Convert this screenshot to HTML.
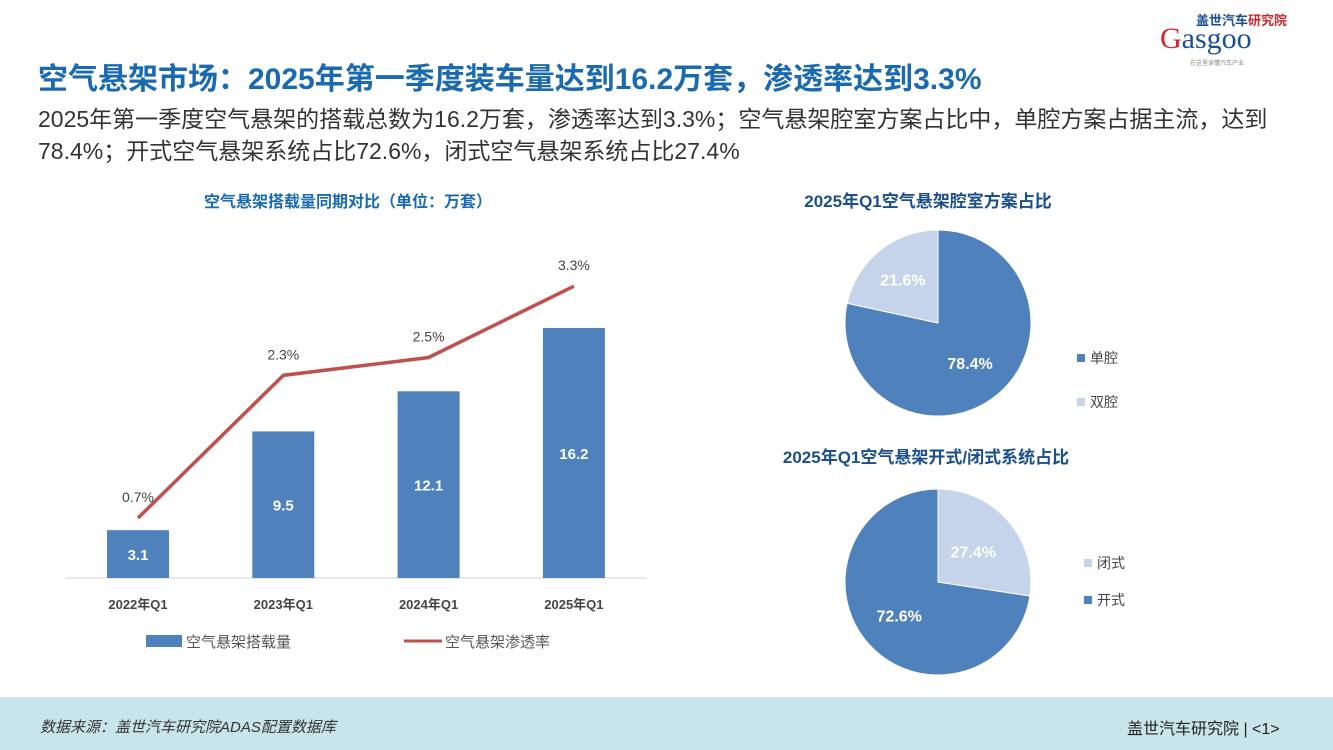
<!DOCTYPE html>
<html><head><meta charset="utf-8">
<style>
body{margin:0;width:1333px;height:750px;overflow:hidden;background:#fff;font-family:"Liberation Sans","Noto Sans CJK SC",sans-serif;position:relative}
.abs{position:absolute}
</style></head><body>
<div class="abs" style="left:38px;top:54px;font-size:30px;font-weight:bold;color:#1a6ab2;white-space:nowrap">空气悬架市场：2025年第一季度装车量达到16.2万套，渗透率达到3.3%</div>
<div class="abs" style="left:38px;top:103px;width:1262px;font-size:23px;line-height:32px;color:#333">2025年第一季度空气悬架的搭载总数为16.2万套，渗透率达到3.3%；空气悬架腔室方案占比中，单腔方案占据主流，达到78.4%；开式空气悬架系统占比72.6%，闭式空气悬架系统占比27.4%</div>
<div class="abs" style="left:1160px;top:10px;width:130px;height:55px">
 <div style="position:absolute;left:36px;top:0;font-size:13px;font-weight:bold;color:#1b4f93">盖世汽车<span style="color:#d0262e">研究院</span></div>
 <div style="position:absolute;left:0;top:12px;font-family:'Liberation Serif',serif;font-size:30px;color:#1b4f93"><span style="color:#d0262e">G</span>asgoo</div>
 <div style="position:absolute;left:30px;top:48px;font-size:6px;color:#888">在这里读懂汽车产业</div>
</div>

<svg class="abs" style="left:0;top:0" width="1333" height="700">
 <text x="348" y="207" text-anchor="middle" font-size="16" font-weight="bold" fill="#1a6ab2">空气悬架搭载量同期对比（单位：万套）</text>
 <line x1="66" y1="578" x2="646" y2="578" stroke="#d0d0d0"/>
 <g id="bars"></g>
 <g id="line"></g>
 <g id="xlabels"></g>
 <rect x="146" y="635" width="36" height="12" fill="#4f81bd"/>
 <text x="186" y="647" font-size="15" fill="#555">空气悬架搭载量</text>
 <line x1="404" y1="641" x2="442" y2="641" stroke="#c0504d" stroke-width="3"/>
 <text x="445" y="647" font-size="15" fill="#555">空气悬架渗透率</text>

 <text x="928" y="207" text-anchor="middle" font-size="17" font-weight="bold" fill="#1a4f8a">2025年Q1空气悬架腔室方案占比</text>
 <g id="pie1"></g>
 <rect x="1077" y="354" width="8" height="8" fill="#4f81bd"/>
 <text x="1090" y="363" font-size="14" fill="#444">单腔</text>
 <rect x="1077" y="398" width="8" height="8" fill="#c5d4ea"/>
 <text x="1090" y="407" font-size="14" fill="#444">双腔</text>

 <text x="926" y="463" text-anchor="middle" font-size="17" font-weight="bold" fill="#1a4f8a">2025年Q1空气悬架开式/闭式系统占比</text>
 <g id="pie2"></g>
 <rect x="1084" y="559" width="8" height="8" fill="#c5d4ea"/>
 <text x="1097" y="568" font-size="14" fill="#444">闭式</text>
 <rect x="1084" y="596" width="8" height="8" fill="#4f81bd"/>
 <text x="1097" y="605" font-size="14" fill="#444">开式</text>
</svg>

<div class="abs" style="left:0;top:697px;width:1333px;height:53px;background:#c9e5ec"></div>
<div class="abs" style="left:40px;top:716px;font-size:15px;font-style:italic;color:#333">数据来源：盖世汽车研究院ADAS配置数据库</div>
<div class="abs" style="left:1127px;top:715px;font-size:16px;color:#222">盖世汽车研究院 | &lt;1&gt;</div>

<script>
const categories=["2022年Q1","2023年Q1","2024年Q1","2025年Q1"];
const volumes=[3.1,9.5,12.1,16.2];
const rates=[0.7,2.3,2.5,3.3];
const pie1Labels=["单腔","双腔"];
const pie1Values=[78.4,21.6];
const pie2Labels=["开式","闭式"];
const pie2Values=[72.6,27.4];

const NS="http://www.w3.org/2000/svg";
function mk(t,a,p){const e=document.createElementNS(NS,t);for(const k in a)e.setAttribute(k,a[k]);p.appendChild(e);return e;}
const xPos=i=>138+i*145.3;
const yBar=v=>578-v*15.43;
const yRate=v=>580.5-v*89.2;
const gb=document.getElementById('bars'),gl=document.getElementById('line'),gx=document.getElementById('xlabels');
volumes.forEach((v,i)=>{
 const r=mk('rect',{x:xPos(i)-31,y:yBar(v),width:62,height:578-yBar(v),fill:'#4f81bd'},gb);
 
 
 const t=mk('text',{x:xPos(i),y:(yBar(v)+578)/2+6,'text-anchor':'middle','font-size':15,'font-weight':'bold',fill:'#fff'},gb);
 t.textContent=v.toFixed(1);
 
 
 const c=mk('text',{x:xPos(i),y:609,'text-anchor':'middle','font-size':13,'font-weight':'bold',fill:'#444'},gx);
 c.textContent=categories[i];
 
 
});
const pl=mk('polyline',{points:rates.map((v,i)=>xPos(i)+','+yRate(v)).join(' '),fill:'none',stroke:'#c0504d','stroke-width':3.5},gl);


rates.forEach((v,i)=>{
 const t=mk('text',{x:xPos(i),y:yRate(v)-16,'text-anchor':'middle','font-size':14,fill:'#444'},gl);
 t.textContent=v.toFixed(1)+'%';
 
 
});
function pie(id,cx,cy,r,vals,cols,dir,lab){
 const g=document.getElementById(id);
 const tot=vals.reduce((a,b)=>a+b,0);let a0=0;
 vals.forEach((v,i)=>{
  const a1=a0+v/tot*2*Math.PI*dir;
  const p=(a)=>[cx+r*Math.sin(a),cy-r*Math.cos(a)];
  const [x0,y0]=p(a0),[x1,y1]=p(a1);
  const large=v/tot>0.5?1:0;
  const path=mk('path',{d:`M${cx},${cy}L${x0},${y0}A${r},${r} 0 ${large} ${dir>0?1:0} ${x1},${y1}Z`,fill:cols[i],stroke:'#fff','stroke-width':1},g);
  
  
  const am=(a0+a1)/2,lr=r*lab[i];
  const t=mk('text',{x:cx+lr*Math.sin(am),y:cy-lr*Math.cos(am)+6,'text-anchor':'middle','font-size':16,'font-weight':'bold',fill:'#fff'},g);
  t.textContent=v.toFixed(1)+'%';
  
  
  a0=a1;
 });
}
pie('pie1',938,323,93,pie1Values,['#4f81bd','#c5d4ea'],1,[0.55,0.6]);
pie('pie2',938,582,93,pie2Values,['#4f81bd','#c5d4ea'],-1,[0.55,0.5]);
</script>
</body></html>
